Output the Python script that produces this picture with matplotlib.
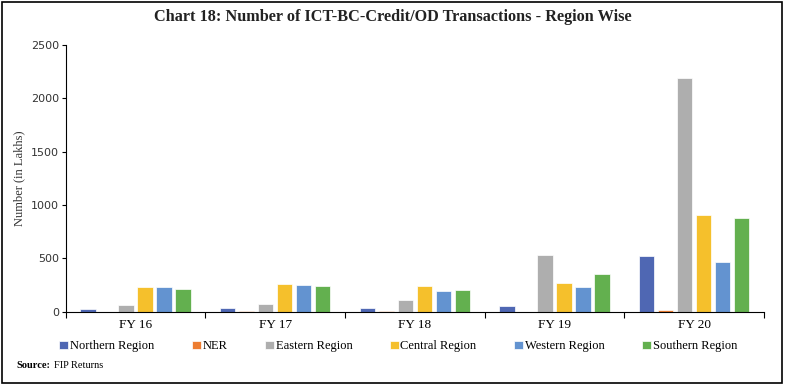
import numpy as np
import matplotlib.pyplot as plt
from matplotlib.patches import Rectangle

years = ['FY 16', 'FY 17', 'FY 18', 'FY 19', 'FY 20']
regions = ['Northern Region', 'NER', 'Eastern Region', 'Central Region',
           'Western Region', 'Southern Region']
northern = [28, 40, 40, 52, 524]
ner = [3, 4, 4, 3, 15]
eastern = [65, 78, 112, 534, 2190]
central = [230, 262, 246, 274, 908]
western = [230, 249, 196, 230, 468]
southern = [215, 246, 209, 356, 880]
colors = ['#4F67B3', '#ED7D31', '#AEAEAE', '#F5C02C', '#6393D0', '#63B04F']

plt.rcParams['font.family'] = 'Liberation Serif'

fig = plt.figure(figsize=(7.86, 3.85), dpi=100)
ax = fig.add_axes([0.0836, 0.19, 0.8886, 0.693])

series = [northern, ner, eastern, central, western, southern]
x = np.arange(len(years))
pitch = 0.136
for i, vals in enumerate(series):
    ax.bar(x + (i - 2.5) * pitch, vals, width=0.11, color=colors[i],
           label=regions[i], edgecolor='white', linewidth=0.5)

ax.set_xlim(-0.5, 4.5)
ax.set_ylim(0, 2500)
ax.set_yticks(range(0, 2501, 500))
ax.set_xticks(np.arange(-0.5, 5, 1))
ax.set_xticklabels([])
ax.set_xticks(x, minor=True)
ax.set_xticklabels(years, minor=True, fontsize=9.5)
ax.tick_params(axis='x', which='minor', length=0, pad=5)
ax.tick_params(axis='x', which='major', length=4, direction='out')
ax.tick_params(axis='y', length=3, pad=2)
for t in ax.get_yticklabels():
    t.set_family('DejaVu Sans')
    t.set_fontsize(8)
    t.set_color('#333333')
ax.spines['top'].set_visible(False)
ax.spines['right'].set_visible(False)
ax.set_ylabel('Number (in Lakhs)', fontsize=9, color='#333333', labelpad=4)

fig.text(0.5, 0.955, 'Chart 18: Number of ICT-BC-Credit/OD Transactions - Region Wise',
         ha='center', va='center', fontsize=11.7, fontweight='bold', color='#222222')

ax.legend(loc='upper center', bbox_to_anchor=(0.476, -0.065), ncol=6, frameon=False,
          fontsize=9, handlelength=0.7, handleheight=0.7, handletextpad=0.15,
          columnspacing=3.0)

fig.text(0.021, 0.05, 'Source:', fontsize=7.5, fontweight='bold', va='center')
fig.text(0.069, 0.05, 'FIP Returns', fontsize=7.5, va='center')

fig.patches.append(Rectangle((0.003, 0.005), 0.992, 0.99, transform=fig.transFigure,
                             fill=False, edgecolor='black', linewidth=1.2))

fig.savefig('out.png', dpi=100)
